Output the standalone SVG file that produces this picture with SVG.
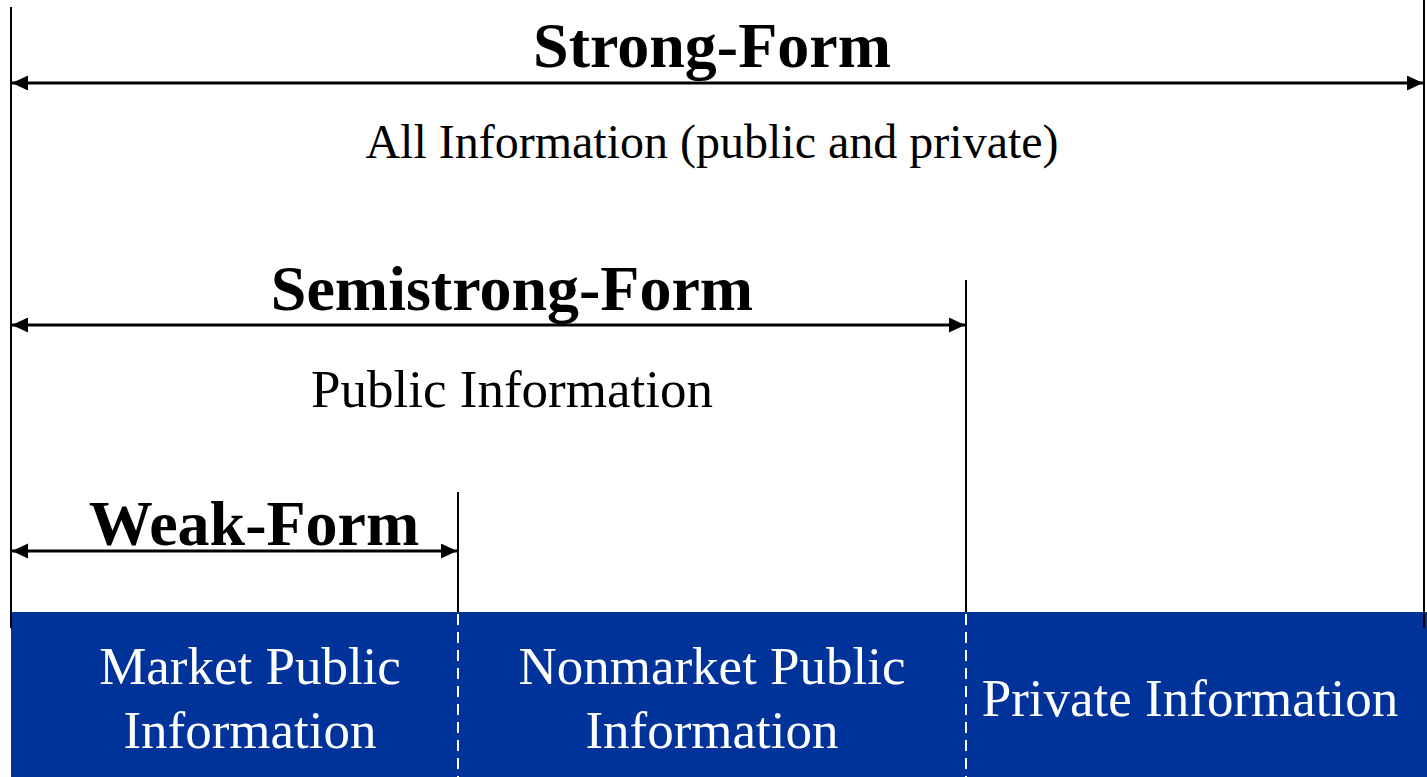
<svg xmlns="http://www.w3.org/2000/svg" width="1427" height="777" viewBox="0 0 1427 777">
<style>
.bold{font-family:"Liberation Serif","Times New Roman",serif;font-weight:bold;font-size:64px;fill:#000;text-anchor:middle}
.reg{font-family:"Liberation Serif","Times New Roman",serif;font-size:48px;fill:#000;text-anchor:middle}
.box{font-family:"Liberation Serif","Times New Roman",serif;font-size:53px;fill:#fff;text-anchor:middle}
.vline{stroke:#000;stroke-width:2;fill:none}
.arrow{stroke:#000;stroke-width:2.8;fill:none;marker-start:url(#ah);marker-end:url(#ah)}
.dash{stroke:#fff;stroke-width:2;stroke-dasharray:11 7;fill:none}
</style>
<defs>
<marker id="ah" markerUnits="userSpaceOnUse" markerWidth="17" markerHeight="16" refX="16" refY="7.5" orient="auto-start-reverse">
<path d="M0,0 L16,7.5 L0,15 z" fill="#000"/>
</marker>
</defs>
<rect width="1427" height="777" fill="#fff"/>
<g id="info-band">
<rect x="11" y="612" width="1416" height="165" fill="#003399"/>
</g>
<g id="connectors">
<line class="vline" x1="11" y1="7" x2="11" y2="628"/>
<line class="vline" x1="1424" y1="0" x2="1424" y2="628"/>
<line class="vline" x1="966" y1="280" x2="966" y2="612"/>
<line class="vline" x1="458" y1="492" x2="458" y2="612"/>
<line class="dash" x1="966" y1="614" x2="966" y2="777"/>
<line class="dash" x1="458" y1="614" x2="458" y2="777"/>
<line class="arrow" x1="12" y1="83" x2="1423" y2="83"/>
<line class="arrow" x1="12" y1="325" x2="965" y2="325"/>
<line class="arrow" x1="12" y1="551" x2="457" y2="551"/>
</g>
<g id="strong-form">
<text class="bold" x="712" y="67">Strong-Form</text>
<text class="reg" x="712" y="158">All Information (public and private)</text>
</g>
<g id="semistrong-form">
<text class="bold" x="512" y="310">Semistrong-Form</text>
<text class="reg" x="512" y="407" style="font-size:53px">Public Information</text>
</g>
<g id="weak-form">
<text class="bold" x="254" y="545">Weak-Form</text>
</g>
<g id="market-public">
<text class="box" x="250" y="684">Market Public</text>
<text class="box" x="250" y="748">Information</text>
</g>
<g id="nonmarket-public">
<text class="box" x="712" y="684">Nonmarket Public</text>
<text class="box" x="712" y="748">Information</text>
</g>
<g id="private">
<text class="box" x="1190" y="716">Private Information</text>
</g>
</svg>
